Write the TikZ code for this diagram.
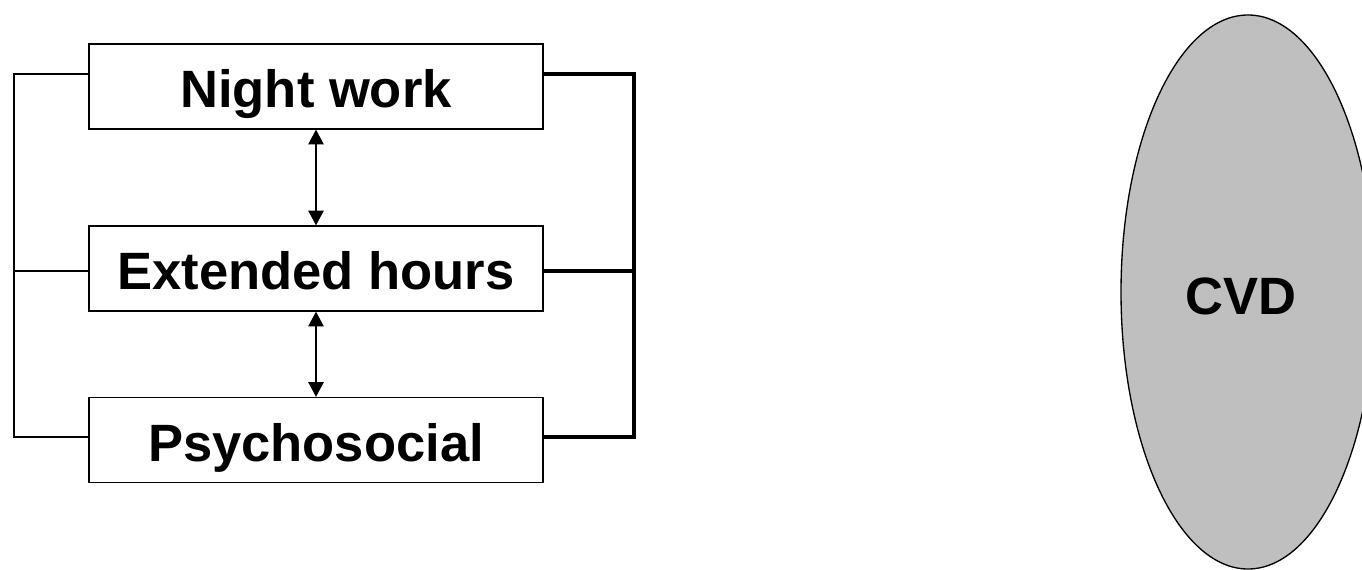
\documentclass[tikz,border=0pt]{standalone}
\usepackage{fontspec}
\setmainfont{Liberation Sans}
\usetikzlibrary{arrows.meta,shapes.geometric}
\begin{document}
\begin{tikzpicture}[x=0.75pt,y=-0.75pt,
  factor/.style={draw=black,line width=1pt,fill=white,minimum width=340.5pt,minimum height=63.75pt,inner sep=0pt,
    text height=32pt,text depth=0pt,font=\fontsize{39.4}{46}\selectfont\bfseries},
  thinlink/.style={draw=black,line width=1pt},
  thicklink/.style={draw=black,line width=2.4pt},
  both/.style={line width=1pt,{Triangle[width=11.5pt,length=11pt]}-{Triangle[width=11.5pt,length=11pt]}},
  outcome/.style={ellipse,draw=black,line width=1pt,fill=black!25,minimum width=190.5pt,minimum height=415.5pt,inner sep=0pt},
  outlabel/.style={font=\fontsize{39.4}{46}\selectfont\bfseries,inner sep=0pt}]
\useasboundingbox (0,0) rectangle (1362,570);
\clip (0,0) rectangle (1362,570);

% exposure boxes
\node[factor] (night) at (316,86.5) {Night work};
\node[factor] (ext)   at (316,268.5) {Extended hours};
\node[factor] (psy)   at (316,440) {Psychosocial};

% reciprocal links between exposures
\draw[both] (night.south) -- (ext.north);
\draw[both] (ext.south) -- (psy.north);

% left-hand bracket
\coordinate (lt) at (14,74);
\coordinate (lm) at (14,271);
\coordinate (lb) at (14,437);
\draw[thinlink] ([yshift=9.375pt]night.west) -- (lt) -- (lb) -- ([yshift=2.25pt]psy.west);
\draw[thinlink] ([yshift=-1.875pt]ext.west) -- (lm);

% right-hand bracket
\coordinate (rt) at (634,74);
\coordinate (rm) at (634,271);
\coordinate (rb) at (634,437);
\draw[thicklink,line join=miter] ([yshift=9.375pt]night.east) -- (rt) -- (rb) -- ([yshift=2.25pt]psy.east);
\draw[thicklink] ([yshift=-1.875pt]ext.east) -- (rm);

% outcome
\node[outcome] (cvd) at (1248,292) {};
\node[outlabel] (cvdtext) at (1241,296) {CVD};
\end{tikzpicture}
\end{document}
